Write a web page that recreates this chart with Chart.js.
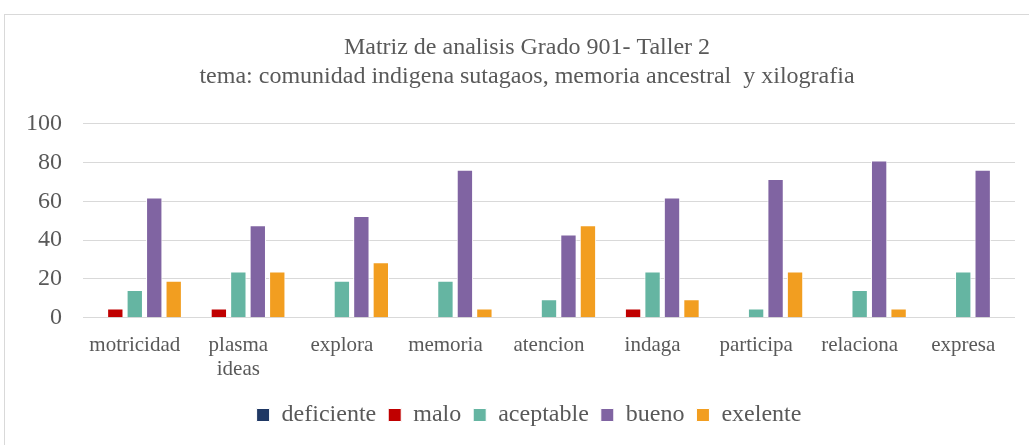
<!DOCTYPE html>
<html>
<head>
  <meta charset="utf-8">
  <script src="https://cdn.jsdelivr.net/npm/chart.js"></script>
  <title>Matriz de analisis Grado 901</title>
  <style>
    html, body { margin: 0; padding: 0; background: #fff; }
    #wrap { position: absolute; left: 0; top: 0; width: 1029px; height: 445px; }
  </style>
</head>
<body>
  <div id="wrap"><canvas id="chart" width="1029" height="445"></canvas></div>
  <script>
    // categories and series (percent of students)
    const categories = ["motricidad", ["plasma", "ideas"], "explora", "memoria", "atencion", "indaga", "participa", "relaciona", "expresa"];
    const deficiente = [0, 0, 0, 0, 0, 0, 0, 0, 0];
    const malo = [4.76, 4.76, 0, 0, 0, 4.76, 0, 0, 0];
    const aceptable = [14.29, 23.81, 19.05, 19.05, 9.52, 23.81, 4.76, 14.29, 23.81];
    const bueno = [61.9, 47.62, 52.38, 76.19, 42.86, 61.9, 71.43, 80.95, 76.19];
    const exelente = [19.05, 23.81, 28.57, 4.76, 47.62, 9.52, 23.81, 4.76, 0];
    const yTicks = [0, 20, 40, 60, 80, 100];

    const serif = "'Liberation Serif', 'Times New Roman', serif";
    const textColor = "#595959";

    function series(label, data, color) {
      return { label, data, backgroundColor: color, borderColor: "#ffffff", borderWidth: 1, borderSkipped: "bottom" };
    }

    // light frame like the office chart area
    const frame = {
      id: "frame",
      beforeDraw(chart) {
        const c = chart.ctx;
        c.save();
        c.fillStyle = "#fff";
        c.fillRect(0, 0, chart.width, chart.height);
        c.strokeStyle = "#D9D9D9";
        c.lineWidth = 1;
        c.strokeRect(4.5, 14.5, chart.width + 10, chart.height + 10);
        c.restore();
      }
    };

    // the original frame is wider than the window, so title and legend sit right of centre
    const nudge = {
      id: "nudge",
      afterLayout(chart) {
        chart.titleBlock.left += 17;
        chart.titleBlock.right += 17;
        chart.legend.left += 19;
        chart.legend.right += 19;
      }
    };

    new Chart(document.getElementById("chart"), {
      type: "bar",
      data: {
        labels: categories,
        datasets: [
          series("deficiente", deficiente, "#1F3864"),
          series("malo", malo, "#C00000"),
          series("aceptable", aceptable, "#65B5A2"),
          series("bueno", bueno, "#8064A2"),
          series("exelente", exelente, "#F29E20")
        ]
      },
      options: {
        responsive: false,
        animation: false,
        layout: { padding: { top: 33, left: 5, right: 14, bottom: 8 } },
        datasets: { bar: { categoryPercentage: 0.94, barPercentage: 0.84 } },
        plugins: {
          title: {
            display: true,
            text: ["Matriz de analisis Grado 901- Taller 2", "tema: comunidad indigena sutagaos, memoria ancestral  y xilografia"],
            color: textColor,
            font: { family: serif, size: 24, weight: "normal", lineHeight: 1.22 },
            padding: { top: 0, bottom: 32 }
          },
          legend: {
            position: "bottom",
            labels: {
              color: textColor,
              font: { family: serif, size: 24 },
              boxWidth: 13,
              boxHeight: 13,
              padding: 12
            }
          },
          tooltip: { enabled: false }
        },
        scales: {
          x: {
            grid: { display: false, drawTicks: false },
            border: { display: false },
            ticks: { color: textColor, font: { family: serif, size: 21, lineHeight: 1.15 }, maxRotation: 0, padding: 16 },
            afterFit(scale) { scale.height -= 7; }
          },
          y: {
            min: 0,
            max: 100,
            afterBuildTicks(axis) { axis.ticks = yTicks.map(v => ({ value: v })); },
            grid: { color: "#D9D9D9", lineWidth: 1, drawTicks: false },
            border: { display: false },
            ticks: { color: textColor, font: { family: serif, size: 24 }, padding: 21 }
          }
        }
      },
      plugins: [frame, nudge]
    });
  </script>
</body>
</html>
